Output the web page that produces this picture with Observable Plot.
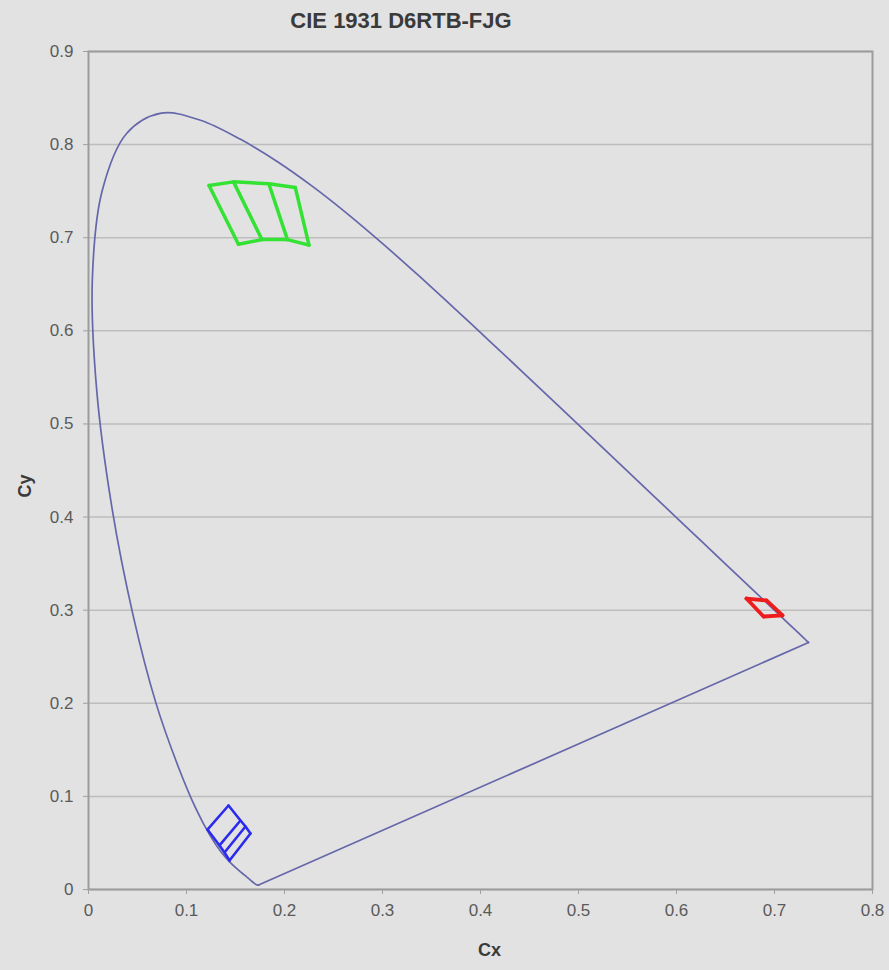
<!DOCTYPE html>
<html>
<head>
<meta charset="utf-8">
<script src="https://cdn.jsdelivr.net/npm/d3@7"></script>
<script src="https://cdn.jsdelivr.net/npm/@observablehq/plot@0.6"></script>
<style>
  html, body { margin: 0; padding: 0; background: #e2e2e2; }
  #wrap { width: 889px; height: 970px; background: #e2e2e2; }
  #title { position: relative; height: 40px; width: 889px; }
  #title span { position: absolute; left: 401px; top: 21px; transform: translate(-50%, -50%);
    font-family: "Liberation Sans", Arial, sans-serif; font-weight: bold; font-size: 22px; color: #3a3a3a; white-space: nowrap; }
  svg { display: block; }
</style>
</head>
<body>
<div id="wrap">
  <div id="title"><span>CIE 1931 D6RTB-FJG</span></div>
  <div id="chart"></div>
</div>
<script>
// Chart texts
const titleText = "CIE 1931 D6RTB-FJG";
const xLabel = "Cx";
const yLabel = "Cy";

// Tick values
const xTicks = [0, 0.1, 0.2, 0.3, 0.4, 0.5, 0.6, 0.7, 0.8];
const yTicks = [0, 0.1, 0.2, 0.3, 0.4, 0.5, 0.6, 0.7, 0.8, 0.9];

// Spectral locus (x, y chromaticity), 380 nm → 700 nm
const locusX = [0.1741, 0.1740, 0.1738, 0.1736, 0.1733, 0.1730, 0.1726, 0.1721, 0.1714, 0.1703,
  0.1689, 0.1669, 0.1644, 0.1611, 0.1566, 0.1510, 0.1440, 0.1355, 0.1241, 0.1096,
  0.0913, 0.0687, 0.0454, 0.0235, 0.0082, 0.0039, 0.0139, 0.0389, 0.0743, 0.1142,
  0.1547, 0.1929, 0.2296, 0.2658, 0.3016, 0.3373, 0.3731, 0.4087, 0.4441, 0.4788,
  0.5125, 0.5448, 0.5752, 0.6029, 0.6270, 0.6482, 0.6658, 0.6801, 0.6915, 0.7006,
  0.7079, 0.7140, 0.7190, 0.7230, 0.7260, 0.7300, 0.7334, 0.7347];
const locusY = [0.0050, 0.0050, 0.0049, 0.0049, 0.0048, 0.0048, 0.0048, 0.0048, 0.0051, 0.0058,
  0.0069, 0.0086, 0.0109, 0.0138, 0.0177, 0.0227, 0.0297, 0.0399, 0.0578, 0.0868,
  0.1327, 0.2007, 0.2950, 0.4127, 0.5384, 0.6548, 0.7502, 0.8120, 0.8338, 0.8262,
  0.8059, 0.7816, 0.7543, 0.7243, 0.6923, 0.6589, 0.6245, 0.5896, 0.5547, 0.5202,
  0.4866, 0.4544, 0.4242, 0.3965, 0.3725, 0.3514, 0.3340, 0.3197, 0.3083, 0.2993,
  0.2920, 0.2859, 0.2809, 0.2770, 0.2740, 0.2700, 0.2666, 0.2653];

// Green gamut cells: top edge points and bottom edge points
const greenTopX = [0.123, 0.148, 0.184, 0.211];
const greenTopY = [0.756, 0.760, 0.758, 0.754];
const greenBotX = [0.153, 0.177, 0.203, 0.225];
const greenBotY = [0.693, 0.698, 0.698, 0.692];

// Red cell
const redTopX = [0.6714, 0.6918];
const redTopY = [0.3125, 0.3104];
const redBotX = [0.6888, 0.7082];
const redBotY = [0.2932, 0.2943];

// Blue cells
const blueTopX = [0.1429, 0.1551, 0.1602, 0.1653];
const blueTopY = [0.0902, 0.0741, 0.0677, 0.0601];
const blueBotX = [0.1214, 0.1337, 0.1388, 0.1439];
const blueBotY = [0.0644, 0.0473, 0.0397, 0.0311];

// Build tables
const locus = locusX.map((x, i) => ({x, y: locusY[i]}));
const purpleLine = [locus[locus.length - 1], locus[0]];

function cellSegments(name, color, tx, ty, bx, by) {
  const rows = [];
  const n = tx.length;
  for (let i = 0; i < n; i++) rows.push({id: name + "-top", color, x: tx[i], y: ty[i]});
  for (let i = 0; i < n; i++) rows.push({id: name + "-bot", color, x: bx[i], y: by[i]});
  for (let i = 0; i < n; i++) {
    rows.push({id: name + "-c" + i, color, x: tx[i], y: ty[i]});
    rows.push({id: name + "-c" + i, color, x: bx[i], y: by[i]});
  }
  return rows;
}
const cells = [
  ...cellSegments("green", "#33e233", greenTopX, greenTopY, greenBotX, greenBotY),
  ...cellSegments("red", "#ee1c1c", redTopX, redTopY, redBotX, redBotY),
  ...cellSegments("blue", "#2b2bef", blueTopX, blueTopY, blueBotX, blueBotY)
];
const widthFor = {green: 3.5, red: 3.8, blue: 2.6};

const fmt = d => d === 0 ? "0" : d.toFixed(1);

const chart = Plot.plot({
  width: 889,
  height: 930,
  marginTop: 11,
  marginLeft: 88,
  marginRight: 17,
  marginBottom: 81,
  style: {background: "#e2e2e2", fontFamily: "'Liberation Sans', Arial, sans-serif", fontSize: "17px", color: "#5a5a5a"},
  x: {domain: [0, 0.8]},
  y: {domain: [0, 0.9]},
  marks: [
    Plot.gridY(yTicks, {stroke: "#bdbdbd", strokeOpacity: 1, strokeWidth: 1.5}),
    Plot.frame({stroke: "#9c9c9c", strokeWidth: 2}),
    Plot.axisX(xTicks, {tickSize: 5, tickPadding: 9, label: null, tickFormat: fmt, stroke: "#a0a0a0", fill: "#5a5a5a"}),
    Plot.axisY(yTicks, {tickSize: 5, tickPadding: 10, label: null, tickFormat: fmt, stroke: "#a0a0a0", fill: "#5a5a5a"}),
    Plot.line(locus, {x: "x", y: "y", curve: "catmull-rom", stroke: "#6666aa", strokeWidth: 1.7}),
    Plot.line(purpleLine, {x: "x", y: "y", stroke: "#6666aa", strokeWidth: 1.7}),
    ...["green", "red", "blue"].map(name =>
      Plot.line(cells.filter(d => d.id.startsWith(name)), {x: "x", y: "y", z: "id", stroke: "color", strokeWidth: widthFor[name], strokeLinejoin: "round", strokeLinecap: "round"})
    ),
    Plot.text([xLabel], {text: d => d, frameAnchor: "bottom", dx: 9, dy: 66, fontWeight: "bold", fontSize: 18, fill: "#3a3a3a"}),
    Plot.text([yLabel], {text: d => d, frameAnchor: "left", dx: -63, dy: 27, rotate: -90, fontWeight: "bold", fontSize: 18, fill: "#3a3a3a"})
  ]
});
document.getElementById("chart").appendChild(chart);
document.querySelector("#title span").textContent = titleText;
</script>
</body>
</html>
